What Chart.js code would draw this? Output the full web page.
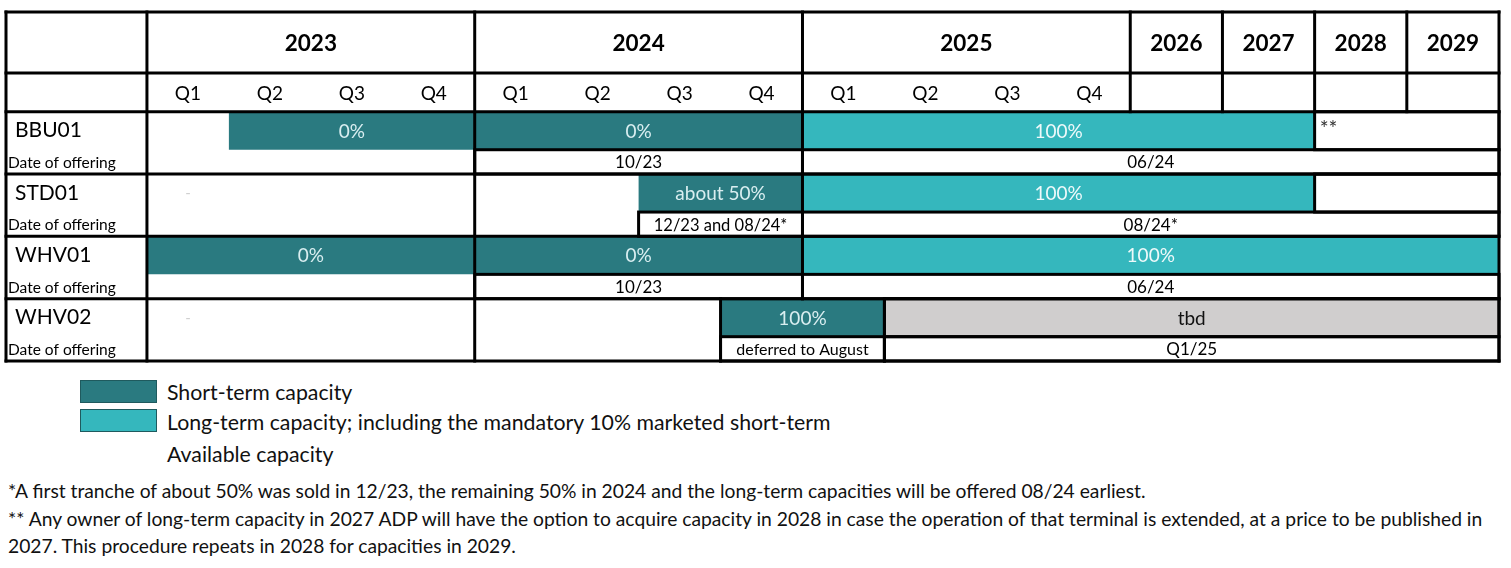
<!DOCTYPE html>
<html>
<head>
<meta charset="utf-8">
<script src="https://cdn.jsdelivr.net/npm/chart.js@4.4.2/dist/chart.umd.min.js"></script>
<style>
  html, body { margin: 0; padding: 0; background: #fff; }
  body { width: 1511px; height: 568px; position: relative; overflow: hidden; font-family: Lato, 'Noto Sans', sans-serif; color: #111; }
  #grafico { position: absolute; left: 0; top: 0; }
  .caja { position: absolute; left: 80px; width: 75px; height: 21px; border: 1px solid #1f5a5e; }
  .item { position: absolute; left: 167px; font-size: 21.3px; line-height: 24px; }
  .nota { position: absolute; left: 8px; font-size: 19.25px; line-height: 22px; white-space: nowrap; }
</style>
</head>
<body>
<canvas id="grafico" width="1511" height="372"></canvas>

<div class="caja" style="top:380px; background:#2a7a80;"></div>
<div class="item" style="top:380px;">Short-term capacity</div>
<div class="caja" style="top:409px; background:#35b7bd;"></div>
<div class="item" style="top:410px;">Long-term capacity; including the mandatory 10% marketed short-term</div>
<div class="item" style="top:442px;">Available capacity</div>

<div class="nota" style="top:480px;">*A first tranche of about 50% was sold in 12/23, the remaining 50% in 2024 and the long-term capacities will be offered 08/24 earliest.</div>
<div class="nota" style="top:508px;">** Any owner of long-term capacity in 2027 ADP will have the option to acquire capacity in 2028 in case the operation of that terminal is extended, at a price to be published in</div>
<div class="nota" style="top:535px;">2027. This procedure repeats in 2028 for capacities in 2029.</div>

<script>
// --- Datos ---
const terminales = ['BBU01', 'STD01', 'WHV01', 'WHV02'];
const anios = ['2023', '2024', '2025', '2026', '2027', '2028', '2029'];
const trimestres = ['Q1', 'Q2', 'Q3', 'Q4'];
// 2023-2025 por trimestre, 2026-2029 por año
const periodos = [
  '2023Q1', '2023Q2', '2023Q3', '2023Q4',
  '2024Q1', '2024Q2', '2024Q3', '2024Q4',
  '2025Q1', '2025Q2', '2025Q3', '2025Q4',
  '2026', '2027', '2028', '2029'
];

// [terminal, desde, hasta, texto]
const cortoPlazo = [
  ['BBU01', '2023Q2', '2023Q4', '0%'],
  ['BBU01', '2024Q1', '2024Q4', '0%'],
  ['STD01', '2024Q3', '2024Q4', 'about 50%'],
  ['WHV01', '2023Q1', '2023Q4', '0%'],
  ['WHV01', '2024Q1', '2024Q4', '0%'],
  ['WHV02', '2024Q4', '2025Q1', '100%']
];
const largoPlazo = [
  ['BBU01', '2025Q1', '2027', '100%'],
  ['STD01', '2025Q1', '2027', '100%'],
  ['WHV01', '2025Q1', '2029', '100%']
];
const disponible = [
  ['BBU01', '2028', '2029', '**'],
  ['STD01', '2028', '2029', '']
];
const porDefinir = [
  ['WHV02', '2025Q2', '2029', 'tbd']
];
const fechasOferta = [
  ['BBU01', '2024Q1', '2024Q4', '10/23'],
  ['BBU01', '2025Q1', '2029', '06/24'],
  ['STD01', '2024Q3', '2024Q4', '12/23 and 08/24*'],
  ['STD01', '2025Q1', '2029', '08/24*'],
  ['WHV01', '2024Q1', '2024Q4', '10/23'],
  ['WHV01', '2025Q1', '2029', '06/24'],
  ['WHV02', '2024Q4', '2025Q1', 'deferred to August'],
  ['WHV02', '2025Q2', '2029', 'Q1/25']
];
// terminales sin capacidad vendida todavía: '-'
const sinDatos = [
  ['STD01', '2023Q1'],
  ['WHV02', '2023Q1']
];

// --- Disposición ---
const ANCHO_ANIO = 1.125;          // columnas de año un poco más anchas que un trimestre
const X_MIN = -1.72;               // columna de nombres
const Y_MIN = -1.6, Y_MAX = 4;     // dos filas de cabecera sobre los bloques
const CAB_DIV = -0.62;             // separación entre fila de años y de trimestres
const ALTO_BARRA = 0.61;           // parte del bloque para la barra, el resto es la fecha

function anchoPeriodo(p) { return p.includes('Q') ? 1 : ANCHO_ANIO; }
function inicio(p) {
  let s = 0;
  for (const q of periodos) { if (q === p) return s; s += anchoPeriodo(q); }
  return s;
}
function fin(p) { return inicio(p) + anchoPeriodo(p); }
const X_MAX = fin(periodos[periodos.length - 1]);

function aBarras(filas, centro) {
  return filas.map(([t, d, h, texto]) => ({ x: [inicio(d), fin(h)], y: terminales.indexOf(t) + centro, texto }));
}

const lineasH = [Y_MIN, CAB_DIV, 0, 1, 2, 3, 4];
const lineasV = [
  [X_MIN, Y_MIN, Y_MAX], [0, Y_MIN, Y_MAX],
  [inicio('2024Q1'), Y_MIN, Y_MAX], [inicio('2025Q1'), Y_MIN, 3],
  [inicio('2026'), Y_MIN, 0], [inicio('2027'), Y_MIN, 0], [inicio('2028'), Y_MIN, 0], [inicio('2029'), Y_MIN, 0],
  [inicio('2024Q4'), 3, 4], [inicio('2025Q2'), 3, 4],
  [X_MAX, Y_MIN, Y_MAX]
];

const FUENTE = 'Lato, "Noto Sans", sans-serif';

const pluginTabla = {
  id: 'tabla',
  afterDatasetsDraw(chart) {
    const { ctx, scales: { x, yBarra } } = chart;
    const px = v => x.getPixelForValue(v);
    const py = v => yBarra.getPixelForValue(v);
    ctx.save();

    // bordes de cajas
    ctx.strokeStyle = '#000';
    ctx.lineWidth = 3;
    chart.data.datasets.forEach((ds, i) => {
      if (!ds.bordeCaja) return;
      chart.getDatasetMeta(i).data.forEach(el => {
        const { x: xf, y: yc, base, height } = el.getProps(['x', 'y', 'base', 'height'], true);
        ctx.strokeRect(base, yc - height / 2, xf - base, height);
      });
    });

    // cuadrícula
    ctx.lineCap = 'square';
    lineasH.forEach(v => {
      ctx.beginPath(); ctx.moveTo(px(X_MIN), py(v)); ctx.lineTo(px(X_MAX), py(v)); ctx.stroke();
    });
    lineasV.forEach(([v, a, b]) => {
      ctx.beginPath(); ctx.moveTo(px(v), py(a)); ctx.lineTo(px(v), py(b)); ctx.stroke();
    });

    // cabeceras
    ctx.textAlign = 'center';
    ctx.textBaseline = 'middle';
    ctx.fillStyle = '#000';
    ctx.font = 'bold 22.5px ' + FUENTE;
    anios.forEach(a => {
      const desde = periodos.find(p => p.startsWith(a));
      const hasta = periodos.filter(p => p.startsWith(a)).pop();
      ctx.fillText(a, (px(inicio(desde)) + px(fin(hasta))) / 2, py((Y_MIN + CAB_DIV) / 2) + 1);
    });
    ctx.font = '19px ' + FUENTE;
    periodos.filter(p => p.includes('Q')).forEach(p => {
      ctx.fillText(trimestres[+p.slice(5) - 1], (px(inicio(p)) + px(fin(p))) / 2, py(CAB_DIV / 2) + 1);
    });

    // nombres de terminales
    ctx.textAlign = 'left';
    terminales.forEach((t, i) => {
      ctx.font = '21px ' + FUENTE;
      ctx.fillText(t, px(X_MIN) + 9, py(i + ALTO_BARRA / 2));
      ctx.font = '15.5px ' + FUENTE;
      ctx.fillText('Date of offering', px(X_MIN) + 2, py(i + (1 + ALTO_BARRA) / 2) + 1);
    });

    // guiones
    ctx.textAlign = 'center';
    ctx.fillStyle = '#d0d0d0';
    ctx.font = '15px ' + FUENTE;
    sinDatos.forEach(([t, p]) => {
      ctx.fillText('-', (px(inicio(p)) + px(fin(p))) / 2, py(terminales.indexOf(t) + ALTO_BARRA / 2));
    });

    // textos de barras
    chart.data.datasets.forEach((ds, i) => {
      chart.getDatasetMeta(i).data.forEach((el, j) => {
        const texto = ds.data[j].texto;
        if (!texto) return;
        const { x: xf, y: yc, base } = el.getProps(['x', 'y', 'base'], true);
        let tam = ds.tamTexto;
        ctx.font = tam + 'px ' + FUENTE;
        while (ctx.measureText(texto).width > (xf - base) - 28 && tam > 8) {
          tam -= 0.5;
          ctx.font = tam + 'px ' + FUENTE;
        }
        ctx.fillStyle = ds.colorTexto;
        if (ds.alinear === 'left') {
          ctx.textAlign = 'left';
          ctx.fillText(texto, base + 5, yc - 1);
        } else {
          ctx.textAlign = 'center';
          ctx.fillText(texto, (base + xf) / 2, yc + 1);
        }
      });
    });
    ctx.restore();
  }
};

const ejeY = () => ({
  type: 'linear', min: Y_MIN, max: Y_MAX, reverse: true, display: false,
  offset: false, ticks: { count: 2 }
});

new Chart(document.getElementById('grafico').getContext('2d'), {
  type: 'bar',
  data: {
    datasets: [
      {
        label: 'Short-term capacity',
        data: aBarras(cortoPlazo, ALTO_BARRA / 2),
        yAxisID: 'yBarra',
        backgroundColor: '#2a7a80',
        barPercentage: ALTO_BARRA,
        colorTexto: '#d9eef0', tamTexto: 19
      },
      {
        label: 'Long-term capacity; including the mandatory 10% marketed short-term',
        data: aBarras(largoPlazo, ALTO_BARRA / 2),
        yAxisID: 'yBarra',
        backgroundColor: '#35b7bd',
        barPercentage: ALTO_BARRA,
        colorTexto: '#eef9fa', tamTexto: 19
      },
      {
        label: 'Available capacity',
        data: aBarras(disponible, ALTO_BARRA / 2),
        yAxisID: 'yBarra',
        backgroundColor: '#ffffff',
        barPercentage: ALTO_BARRA,
        bordeCaja: true, alinear: 'left',
        colorTexto: '#333', tamTexto: 21
      },
      {
        label: 'tbd',
        data: aBarras(porDefinir, ALTO_BARRA / 2),
        yAxisID: 'yBarra',
        backgroundColor: '#d0cece',
        barPercentage: ALTO_BARRA,
        bordeCaja: true,
        colorTexto: '#111', tamTexto: 19
      },
      {
        label: 'Date of offering',
        data: aBarras(fechasOferta, (1 + ALTO_BARRA) / 2),
        yAxisID: 'yFecha',
        backgroundColor: '#ffffff',
        barPercentage: 1 - ALTO_BARRA,
        bordeCaja: true,
        colorTexto: '#000', tamTexto: 17
      }
    ]
  },
  options: {
    indexAxis: 'y',
    responsive: false,
    animation: false,
    layout: { padding: { left: 6, right: 12, top: 12, bottom: 11 } },
    datasets: { bar: { grouped: false, categoryPercentage: 1, borderWidth: 0 } },
    plugins: {
      legend: { display: false },
      tooltip: { enabled: false }
    },
    scales: {
      x: { type: 'linear', min: X_MIN, max: X_MAX, display: false, stacked: false, offset: false },
      yBarra: ejeY(),
      yFecha: ejeY()
    }
  },
  plugins: [pluginTabla]
});
</script>
</body>
</html>
